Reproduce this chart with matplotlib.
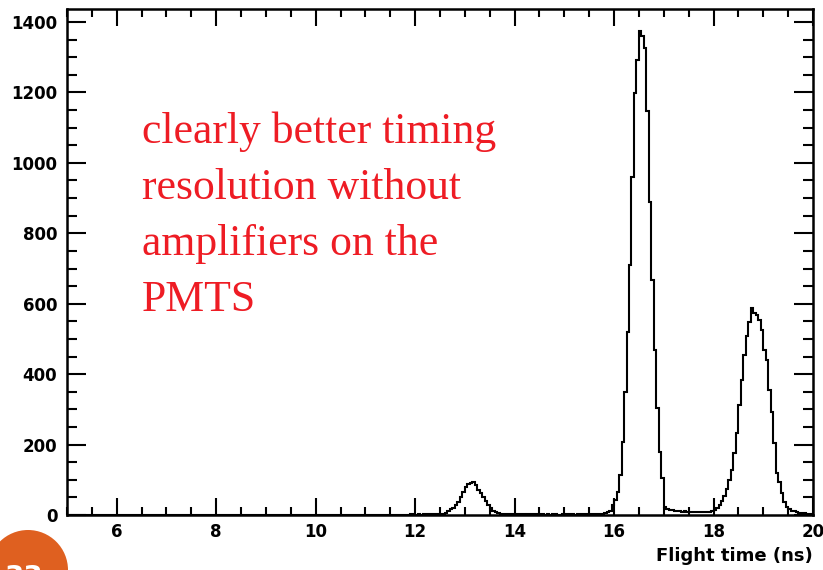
import numpy as np
import matplotlib.pyplot as plt
from matplotlib.patches import Circle
from matplotlib.ticker import MultipleLocator

# Histogram binning (ns)
t_min, t_max = 5.0, 20.0
bin_width = 0.05

# Counts, one list per stretch of the spectrum,
# each starting at the given flight time; everything else is zero
low_start = 11.50
low_counts = [0, 1, 0, 1, 1, 0, 1, 1, 2, 1, 1, 2, 1, 2, 2, 1, 2, 2, 3, 2]

peak1_start = 12.50
peak1_counts = [3, 4, 7, 12, 16, 20, 28, 38, 50, 66, 80, 88, 92, 95, 85, 72,
                62, 50, 40, 28, 20, 12, 8, 6, 4, 3]

mid_start = 13.80
mid_counts = [3, 2, 3, 2, 2, 3, 2, 2, 1, 2, 2, 1, 2, 1, 2, 2, 1, 2, 1, 2, 2,
              1, 1, 2, 2, 1, 2, 2, 1, 2, 2, 3, 2, 2, 3, 3, 2, 3, 4, 4, 5]

peak2_start = 15.85
peak2_counts = [8, 12, 28, 43, 66, 114, 208, 350, 521, 710, 961, 1198, 1293,
                1375, 1360, 1326, 1146, 890, 668, 469, 304, 180, 105, 22]

gap_start = 17.05
gap_counts = [18, 15, 14, 12, 11, 10, 9, 10, 8, 9, 8, 9, 8, 8, 9, 8, 9, 9]

peak3_start = 17.95
peak3_counts = [10, 14, 20, 28, 40, 55, 75, 99, 128, 175, 232, 312, 384, 455,
                507, 549, 587, 575, 568, 554, 526, 469, 440, 355, 293, 204,
                118, 95, 62, 38, 22, 18, 12, 10, 8, 6, 5, 5, 4, 4, 4]

note_lines = ["clearly better timing", "resolution without",
              "amplifiers on the", "PMTS"]
x_label = "Flight time (ns)"
page_number = "33"

# Build the full histogram
n_bins = int(round((t_max - t_min) / bin_width))
edges = t_min + bin_width * np.arange(n_bins + 1)
counts = np.zeros(n_bins)
for start, vals in [(low_start, low_counts), (peak1_start, peak1_counts),
                    (mid_start, mid_counts), (peak2_start, peak2_counts),
                    (gap_start, gap_counts), (peak3_start, peak3_counts)]:
    i0 = int(round((start - t_min) / bin_width))
    counts[i0:i0 + len(vals)] = vals

W, H = 823, 570
fig = plt.figure(figsize=(W / 100, H / 100), dpi=100)
ax = fig.add_axes([67 / W, 55 / H, (813 - 67) / W, (515 - 9) / H])

ax.stairs(counts, edges, color='black', linewidth=1.5)

ax.set_xlim(t_min, t_max)
ax.set_ylim(0, 1437)
ax.xaxis.set_major_locator(MultipleLocator(2))
ax.xaxis.set_minor_locator(MultipleLocator(0.5))
ax.yaxis.set_major_locator(MultipleLocator(200))
ax.yaxis.set_minor_locator(MultipleLocator(50))

for s in ax.spines.values():
    s.set_linewidth(1.8)
ax.tick_params(which='both', direction='in', top=True, right=True, width=1.5)
ax.tick_params(axis='x', which='major', length=12, pad=6)
ax.tick_params(axis='x', which='minor', length=6)
ax.tick_params(axis='y', which='major', length=14, pad=7)
ax.tick_params(axis='y', which='minor', length=7)

# ROOT starts labelling at 6
ax.set_xticks(np.arange(6, 21, 2))
tick_font = dict(family='DejaVu Sans', weight='bold', size=12)
for lab in ax.get_xticklabels() + ax.get_yticklabels():
    lab.set_fontproperties(tick_font)

fig.text(813 / W, 1 - 556 / H, x_label, ha='right', va='center',
         fontfamily='DejaVu Sans', fontweight='bold', fontsize=13)

# red annotation
baselines = [143, 199, 255, 311]
for line, yb in zip(note_lines, baselines):
    fig.text(142 / W, 1 - yb / H, line, ha='left', va='baseline',
             fontfamily='Liberation Serif', fontsize=31.5, color='#ee1c24')

# slide page-number badge, mostly cut off at the bottom left
fig.add_artist(Circle((28 / 100, 0), 40 / 100, transform=fig.dpi_scale_trans,
                      facecolor='#df6020', edgecolor='none', clip_on=False))
fig.text(24 / W, 1 - 564 / H, page_number, ha='center', va='top',
         color='white', fontweight='bold', fontsize=20)

fig.savefig('out.png', dpi=100)
